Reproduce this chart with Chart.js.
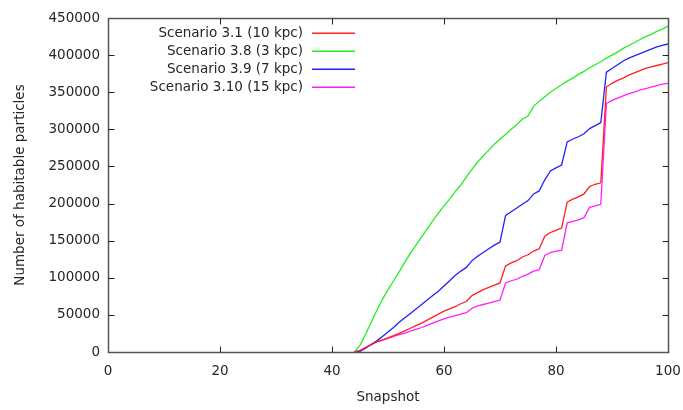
<!DOCTYPE html>
<html>
<head>
<meta charset="utf-8">
<script src="https://cdn.jsdelivr.net/npm/chart.js@4"></script>
<style>
html,body{margin:0;padding:0;background:#fff;}
#wrap{width:683px;height:410px;}
</style>
</head>
<body>
<div id="wrap"><canvas id="c" width="683" height="410"></canvas></div>
<script>
const snapshots = [44,45,46,47,48,49,50,51,52,53,54,55,56,57,58,59,60,61,62,63,64,65,66,67,68,69,70,71,72,73,74,75,76,77,78,79,80,81,82,83,84,85,86,87,88,89,90,91,92,93,94,95,96,97,98,99,100];
const seriesNames = ["Scenario 3.1 (10 kpc)","Scenario 3.8 (3 kpc)","Scenario 3.9 (7 kpc)","Scenario 3.10 (15 kpc)"];
const s31 = [0,2000,6000,10000,14000,16000,19000,22000,25000,28500,32000,35500,39000,43000,47000,51000,55000,58000,61000,65000,68000,76000,80000,84000,87000,90000,93000,116000,120000,123000,128000,131000,136000,139000,156000,161000,164000,167000,202000,206000,209000,213000,223000,226000,228000,357000,362000,366000,369000,373000,376000,379000,382000,384000,386000,388000,390000];
const s38 = [0,9000,24000,40000,56000,71000,84000,96000,108000,121000,133000,144000,155000,166000,177000,187000,197000,206000,216000,225000,236000,246000,256000,264000,272000,280000,287000,293000,300000,306000,314000,318000,331000,338000,344000,350000,355000,360000,365000,369000,374000,378000,383000,387000,391000,396000,400000,404000,409000,413000,417000,421000,425000,428000,432000,435000,439000];
const s39 = [0,1000,5000,10000,15000,21000,27000,33000,40000,46000,52000,58000,64000,70000,76000,82000,89000,96000,103000,109000,114000,123000,129000,134000,139000,144000,148000,184000,189000,194000,199000,204000,213000,217000,232000,244000,248000,252000,283000,287000,290000,294000,301000,305000,309000,377000,382000,387000,392000,396000,399000,402000,405000,408000,411000,413000,415000];
const s310 = [0,2000,6000,10000,13500,16000,18500,21000,23500,25500,28000,30500,33000,36000,39000,42000,44500,47000,49000,51000,53000,59000,62000,64000,66000,68000,70000,93000,96000,98000,102000,105000,109000,111000,130000,134000,136000,137000,174000,176000,178000,181000,195000,197000,199000,335000,339000,342000,345000,348000,350000,353000,355000,357000,359000,361000,362000];
const xTicks = [0,20,40,60,80,100];
const yTicks = [0,50000,100000,150000,200000,250000,300000,350000,400000,450000];
const colors = ["#ff2020","#22ee22","#2020ff","#ff20ff"];
const allSeries = [s31,s38,s39,s310];

const FONT = "DejaVu Sans";
const FS = 13.5;
const TEXT = "#262626";

const datasets = allSeries.map((vals,i)=>({
  label: seriesNames[i],
  data: snapshots.map((s,j)=>({x:s,y:vals[j]})),
  borderColor: colors[i],
  backgroundColor: colors[i],
  borderWidth: 1.3,
  pointRadius: 0,
  tension: 0,
  fill: false
}));

const framePlugin = {
  id:'frame',
  afterDatasetsDraw(chart){
    const {ctx, chartArea:a, scales:{x,y}} = chart;
    ctx.save();
    ctx.strokeStyle = "#555";
    ctx.lineWidth = 1.5;
    const L=Math.round(a.left)+0.5, R=Math.round(a.right)+0.5, T=Math.round(a.top)+0.5, B=Math.round(a.bottom)+0.5;
    ctx.beginPath();
    ctx.rect(L,T,R-L,B-T);
    ctx.stroke();
    ctx.lineWidth = 1;
    ctx.strokeStyle = "#222";
    const tl = 6;
    ctx.beginPath();
    xTicks.forEach(v=>{
      const px = Math.round(x.getPixelForValue(v))+0.5;
      if (v!==0 && v!==100){
        ctx.moveTo(px,B); ctx.lineTo(px,B-tl);
        ctx.moveTo(px,T); ctx.lineTo(px,T+tl);
      }
    });
    yTicks.forEach(v=>{
      const py = Math.round(y.getPixelForValue(v))+0.5;
      if (v!==0 && v!==450000){
        ctx.moveTo(L,py); ctx.lineTo(L+tl,py);
        ctx.moveTo(R,py); ctx.lineTo(R-tl,py);
      }
    });
    ctx.stroke();
    // legend
    ctx.font = FS+"px '"+FONT+"'";
    ctx.textAlign = "right";
    ctx.textBaseline = "middle";
    const tx = 303, lx0 = 312, lx1 = 355, y0 = 33, dy = 18;
    chart.data.datasets.forEach((d,i)=>{
      const yy = y0 + i*dy;
      ctx.fillStyle = TEXT;
      ctx.fillText(d.label, tx, yy);
      ctx.fillStyle = d.borderColor;
      ctx.fillRect(lx0, Math.round(yy)-0.5, lx1-lx0, 1.5);
    });
    ctx.restore();
  }
};

new Chart(document.getElementById('c'), {
  type:'line',
  data:{datasets},
  options:{
    responsive:false,
    animation:false,
    layout:{padding:{left:0,right:15,top:18,bottom:0}},
    plugins:{legend:{display:false},tooltip:{enabled:false}},
    scales:{
      x:{
        type:'linear', min:0, max:100,
        afterBuildTicks(s){ s.ticks = xTicks.map(v=>({value:v})); },
        afterFit(s){ s.height = 58; s.paddingRight = 0; s.paddingLeft = 0; },
        grid:{display:false, drawTicks:false},
        border:{display:false},
        ticks:{padding:11, color:TEXT, font:{family:FONT,size:FS}, maxRotation:0},
        title:{display:true, text:'Snapshot', color:TEXT, font:{family:FONT,size:FS}, padding:{top:4,bottom:4}}
      },
      y:{
        type:'linear', min:0, max:450000,
        afterBuildTicks(s){ s.ticks = yTicks.map(v=>({value:v})); },
        afterFit(s){ s.width = 108; s.paddingTop = 0; s.paddingBottom = 0; },
        grid:{display:false, drawTicks:false},
        border:{display:false},
        ticks:{padding:8, color:TEXT, font:{family:FONT,size:FS}, callback:v=>String(v)},
        title:{display:true, text:'Number of habitable particles', color:TEXT, font:{family:FONT,size:FS}, padding:{top:12,bottom:0}}
      }
    }
  },
  plugins:[framePlugin]
});
</script>
</body>
</html>
